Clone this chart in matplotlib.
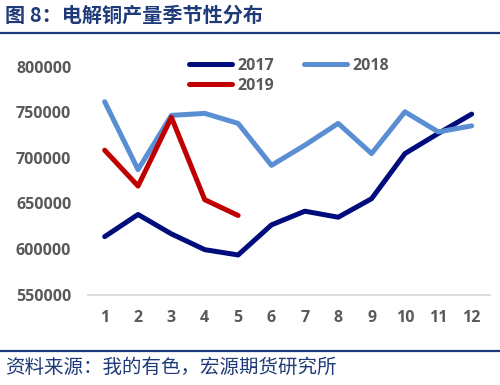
import numpy as np
from matplotlib import pyplot as plt
from matplotlib.lines import Line2D

plt.rcParams['font.family'] = ['Open Sans', 'DejaVu Sans']

# 月份与各年产量（吨）
bulan = [1, 2, 3, 4, 5, 6, 7, 8, 9, 10, 11, 12]
y2017 = [613500, 637800, 616500, 599200, 593400, 626400, 641400, 634800, 655100, 704600, 726700, 747900]
y2018 = [761500, 687000, 746500, 748700, 737700, 691700, 713800, 737700, 704600, 750400, 728400, 735000]
y2019 = [708300, 669000, 744300, 654000, 636700]
yticks = [550000, 600000, 650000, 700000, 750000, 800000]

judul = '图 8：电解铜产量季节性分布'
sumber = '资料来源：我的有色，宏源期货研究所'

navy = '#1F3A78'
abu = '#595959'

fig = plt.figure(figsize=(5, 3.85), dpi=100)
ax = fig.add_axes([0.176, 0.235, 0.804, 0.592])

l17, = ax.plot(bulan, y2017, color='#000C7B', lw=3.6, label='2017', solid_capstyle='round')
l18, = ax.plot(bulan, y2018, color='#5A8ED2', lw=3.6, label='2018', solid_capstyle='round')
l19, = ax.plot(bulan[:len(y2019)], y2019, color='#C00000', lw=3.6, label='2019', solid_capstyle='round')

ax.set_xlim(0.5, 12.55)
ax.set_ylim(550000, 800000)
ax.set_xticks(bulan)
ax.set_yticks(yticks)
ax.tick_params(length=0, labelsize=11.5, labelcolor=abu, pad=11)
ax.tick_params(axis='y', pad=12)
for lbl in ax.get_xticklabels() + ax.get_yticklabels():
    lbl.set_fontweight('bold')
for s in ['top', 'right', 'left']:
    ax.spines[s].set_visible(False)
ax.spines['bottom'].set_color('#D9D9D9')
ax.spines['bottom'].set_linewidth(1.3)

# urutan kolom: 2017, 2019 | 2018
leg = fig.legend([l17, l19, l18], ['2017', '2019', '2018'],
                 loc='upper left', bbox_to_anchor=(0.378, 0.85), ncol=2,
                 frameon=False, borderpad=0, borderaxespad=0,
                 handlelength=2.7, handletextpad=0.3, columnspacing=1.9,
                 labelspacing=0.25, prop={'weight': 'bold', 'size': 11.5})
for t in leg.get_texts():
    t.set_color(abu)

# judul dan garis
fig.text(0.01, 0.96, judul, family=['Noto Sans CJK SC', 'DejaVu Sans'],
         fontsize=14.5, fontweight='bold', color=navy, va='center', ha='left')
fig.add_artist(Line2D([0, 1], [1 - 33/385, 1 - 33/385], color=navy, lw=1.6))
fig.add_artist(Line2D([0, 1], [1 - 351/385, 1 - 351/385], color=navy, lw=1.6))
fig.text(0.01, 1 - 367/385, sumber, family=['Noto Sans CJK SC', 'DejaVu Sans'],
         fontsize=14, color=navy, va='center', ha='left')

fig.savefig('out.png', dpi=100)
